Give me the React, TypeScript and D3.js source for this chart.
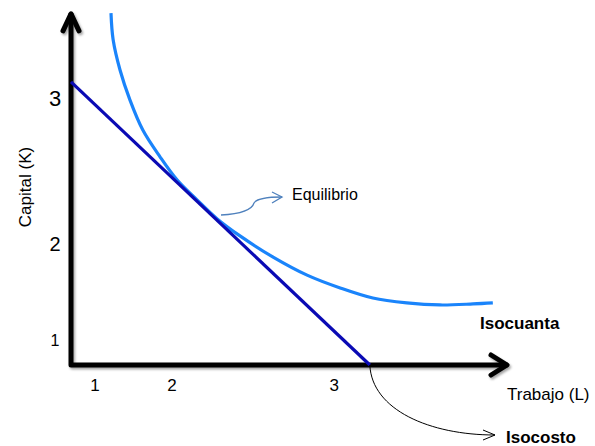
import React from "react";
import * as d3 from "d3";

// Isoquant (Isocuanta) points in chart units: [L, K]
const isoquantL = [0.93, 0.98, 1.14, 1.37, 1.67, 2.07, 2.47, 2.93, 3.4, 3.93, 4.7, 5.49, 6.26, 7.02, 7.81, 8.58, 9.35, 9.81];
const isoquantK = [10.14, 9.37, 8.5, 7.64, 6.77, 6.0, 5.33, 4.76, 4.21, 3.72, 3.11, 2.59, 2.22, 1.93, 1.79, 1.73, 1.76, 1.79];
// Isocost (Isocosto) line endpoints
const isocostL = [0, 6.95];
const isocostK = [8.16, 0];
// Tick labels and their positions
const xTickLabels = ["1", "2", "3"];
const xTickPos = [0.56, 2.35, 6.12];
const yTickLabels = ["3", "2", "1"];
const yTickPos = [7.69, 3.5, 0.71];
const yTickSizes = [22, 20, 16];

const W = 595;
const H = 446;
const FONT = "'Liberation Sans', Arial, sans-serif";

export default function App() {
  const x = d3.scaleLinear().domain([0, 10]).range([71, 501]);
  const y = d3.scaleLinear().domain([0, 10]).range([365, 18]);

  const quant = isoquantL.map((l, i) => [l, isoquantK[i]] as [number, number]);
  const quantPath = d3
    .line<[number, number]>()
    .x((d) => x(d[0]))
    .y((d) => y(d[1]))
    .curve(d3.curveCatmullRom.alpha(0.5))(quant) as string;

  const cost = isocostL.map((l, i) => [l, isocostK[i]] as [number, number]);
  const costPath = d3
    .line<[number, number]>()
    .x((d) => x(d[0]))
    .y((d) => y(d[1]))(cost) as string;

  const ox = x(0);
  const oy = y(0);
  const xEnd = x(10.14);
  const yEnd = y(10.12);

  const costX = x(isocostL[1]);

  return (
    <svg
      width={W}
      height={H}
      style={{ position: "absolute", left: 0, top: 0, background: "#fff" }}
    >
      <defs>
        <filter id="sh" x="-20%" y="-20%" width="140%" height="140%">
          <feDropShadow dx="1.5" dy="2" stdDeviation="1.2" floodColor="#000" floodOpacity="0.35" />
        </filter>
      </defs>

      {/* axes */}
      <g filter="url(#sh)" stroke="#000" strokeWidth={5} fill="none" strokeLinecap="round" strokeLinejoin="round">
        <path d={`M${ox},${yEnd + 2}L${ox},${oy}L${xEnd - 2},${oy}`} strokeLinecap="square" />
        <path d={`M${ox - 8},${yEnd + 17}L${ox},${yEnd}L${ox + 8},${yEnd + 17}`} />
        <path d={`M${xEnd - 16},${oy - 10}L${xEnd},${oy}L${xEnd - 16},${oy + 10}`} />
      </g>

      {/* isoquant */}
      <path d={quantPath} fill="none" stroke="#1a84fb" strokeWidth={3.2} />
      {/* isocost */}
      <path d={costPath} fill="none" stroke="#0a0ab4" strokeWidth={3.2} />

      {/* Equilibrio annotation arrow */}
      <path
        d="M221,215 C240,214 252,210 254,203 C257,198 268,197 282,197"
        fill="none"
        stroke="#4f81bd"
        strokeWidth={1.3}
      />
      <path d="M272,192L282,197L272,203" fill="none" stroke="#4f81bd" strokeWidth={1.3} />
      <text x={292} y={200} fontFamily={FONT} fontSize={16} fill="#000">
        Equilibrio
      </text>

      {/* Isocosto annotation arrow */}
      <path
        d={`M${costX},${oy} C${costX + 2},${oy + 45} ${costX + 60},${oy + 70} 495,435`}
        fill="none"
        stroke="#000"
        strokeWidth={1}
      />
      <path d="M483,430L495,435L483,440" fill="none" stroke="#000" strokeWidth={1} />

      {/* tick labels */}
      {xTickLabels.map((t, i) => (
        <text key={"x" + i} x={x(xTickPos[i])} y={391} textAnchor="middle" fontFamily={FONT} fontSize={17} fill="#000">
          {t}
        </text>
      ))}
      {yTickLabels.map((t, i) => (
        <text
          key={"y" + i}
          x={ox - 16}
          y={y(yTickPos[i])}
          dy="0.36em"
          textAnchor="middle"
          fontFamily={FONT}
          fontSize={yTickSizes[i]}
          fill="#000"
        >
          {t}
        </text>
      ))}

      {/* axis titles */}
      <text
        transform="translate(31,187) rotate(-90)"
        textAnchor="middle"
        fontFamily={FONT}
        fontSize={17}
        fill="#000"
      >
        Capital (K)
      </text>
      <text x={507} y={400} fontFamily={FONT} fontSize={17} fill="#000">
        Trabajo (L)
      </text>

      {/* curve labels */}
      <text x={480} y={329} fontFamily={FONT} fontSize={17} fontWeight="bold" fill="#000">
        Isocuanta
      </text>
      <text x={506} y={443} fontFamily={FONT} fontSize={17} fontWeight="bold" fill="#000">
        Isocosto
      </text>
    </svg>
  );
}
